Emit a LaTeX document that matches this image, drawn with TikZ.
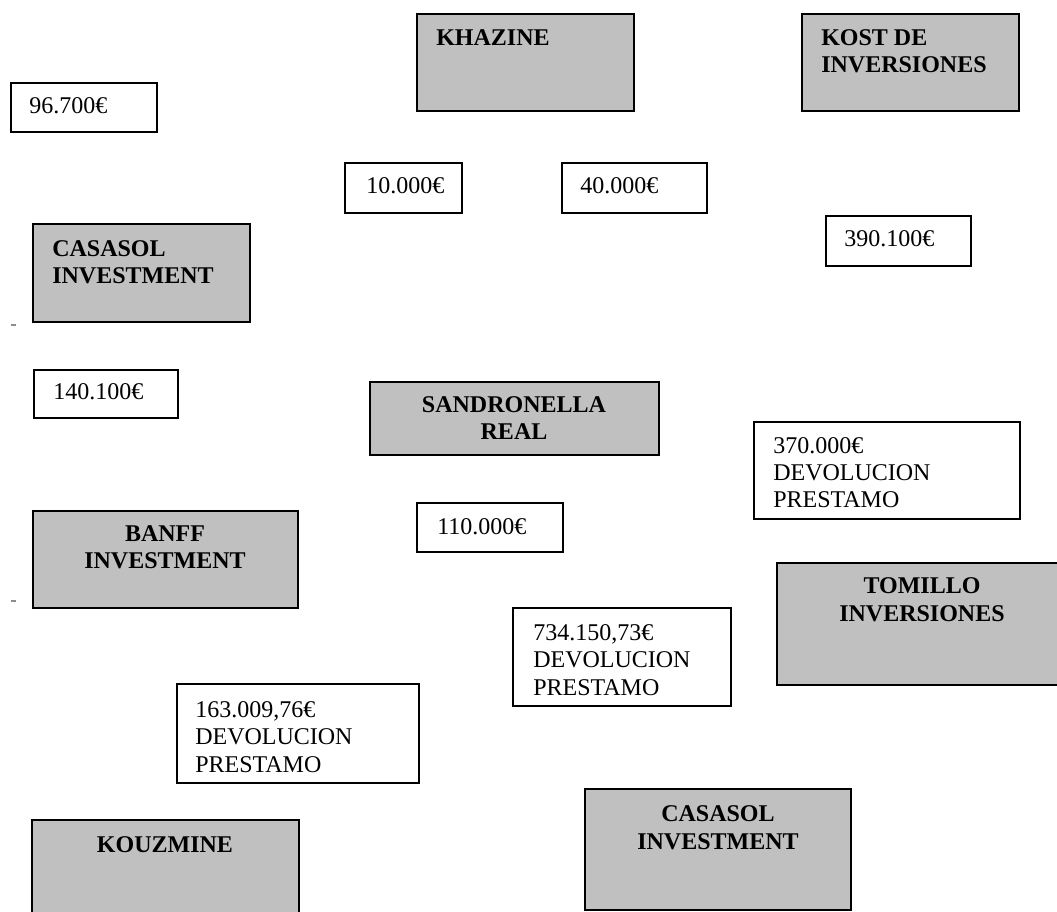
\documentclass[tikz,border=0pt]{standalone}
\usepackage{fontspec}
\setmainfont{Liberation Serif}
\usetikzlibrary{fit}
\definecolor{boxgray}{HTML}{C0C0C0}
\begin{document}
\begin{tikzpicture}[x=0.75pt,y=-0.75pt,
  gbox/.style={draw=black, fill=boxgray, line width=1.6pt, inner sep=0pt},
  wbox/.style={draw=black, fill=white, line width=1.6pt, inner sep=0pt},
  blbl/.style={inner sep=0pt, font=\fontsize{18pt}{20.6pt}\selectfont\bfseries},
  nlbl/.style={inner sep=0pt, font=\fontsize{18pt}{20.6pt}\selectfont},
  straymark/.style={draw=black!45, line width=1.2pt}]
\useasboundingbox (0,0) rectangle (1057,912);
\clip (0,0) rectangle (1057,912);
% gray boxes (multi-line labels are anchored at the baseline of their last line)
\node[gbox, fit={(417,14)(634,111)}] (khazine) {};
\node[blbl, anchor=base west] (khazineT) at (436,46) {KHAZINE};
\node[gbox, fit={(802,14)(1019,111)}] (kost) {};
\node[blbl, anchor=base west, align=left] (kostT) at (821,73) {KOST DE\\INVERSIONES};
\node[gbox, fit={(33,224)(250,322)}] (casasol1) {};
\node[blbl, anchor=base west, align=left] (casasol1T) at (52,284) {CASASOL\\INVESTMENT};
\node[gbox, fit={(370,382)(659,455)}] (sandro) {};
\node[blbl, anchor=base, align=center] (sandroT) at (514,440) {SANDRONELLA\\REAL};
\node[gbox, fit={(33,511)(298,608)}] (banff) {};
\node[blbl, anchor=base, align=center] (banffT) at (165,569) {BANFF\\INVESTMENT};
\node[gbox, fit={(777,563)(1067,685)}] (tomillo) {};
\node[blbl, anchor=base, align=center] (tomilloT) at (922,621) {TOMILLO\\INVERSIONES};
\node[gbox, fit={(32,820)(299,925)}] (kouz) {};
\node[blbl, anchor=base] (kouzT) at (165,852) {KOUZMINE};
\node[gbox, fit={(585,789)(851,910)}] (casasol2) {};
\node[blbl, anchor=base, align=center] (casasol2T) at (718,849) {CASASOL\\INVESTMENT};
% white boxes
\node[wbox, fit={(11,83)(157,132)}] (a96) {};
\node[nlbl, anchor=base west] (a96T) at (29,114) {96.700€};
\node[wbox, fit={(345,163)(462,213)}] (a10) {};
\node[nlbl, anchor=base west] (a10T) at (366,194) {10.000€};
\node[wbox, fit={(562,163)(707,213)}] (a40) {};
\node[nlbl, anchor=base west] (a40T) at (580,194) {40.000€};
\node[wbox, fit={(826,216)(971,266)}] (a390) {};
\node[nlbl, anchor=base west] (a390T) at (844,247) {390.100€};
\node[wbox, fit={(34,370)(178,418)}] (a140) {};
\node[nlbl, anchor=base west] (a140T) at (53,400) {140.100€};
\node[wbox, fit={(417,503)(563,552)}] (a110) {};
\node[nlbl, anchor=base west] (a110T) at (437,535) {110.000€};
\node[wbox, fit={(754,422)(1020,519)}] (a370) {};
\node[nlbl, anchor=base west, align=left] (a370T) at (773,508) {370.000€\\DEVOLUCION\\PRESTAMO};
\node[wbox, fit={(513,608)(731,706)}] (a734) {};
\node[nlbl, anchor=base west, align=left] (a734T) at (533,695) {734.150,73€\\DEVOLUCION\\PRESTAMO};
\node[wbox, fit={(177,684)(419,783)}] (a163) {};
\node[nlbl, anchor=base west, align=left] (a163T) at (195,772) {163.009,76€\\DEVOLUCION\\PRESTAMO};
% small stray marks at left edge
\draw[straymark] (11,325) -- (16,325);
\draw[straymark] (11,601) -- (16,601);
\end{tikzpicture}
\end{document}
